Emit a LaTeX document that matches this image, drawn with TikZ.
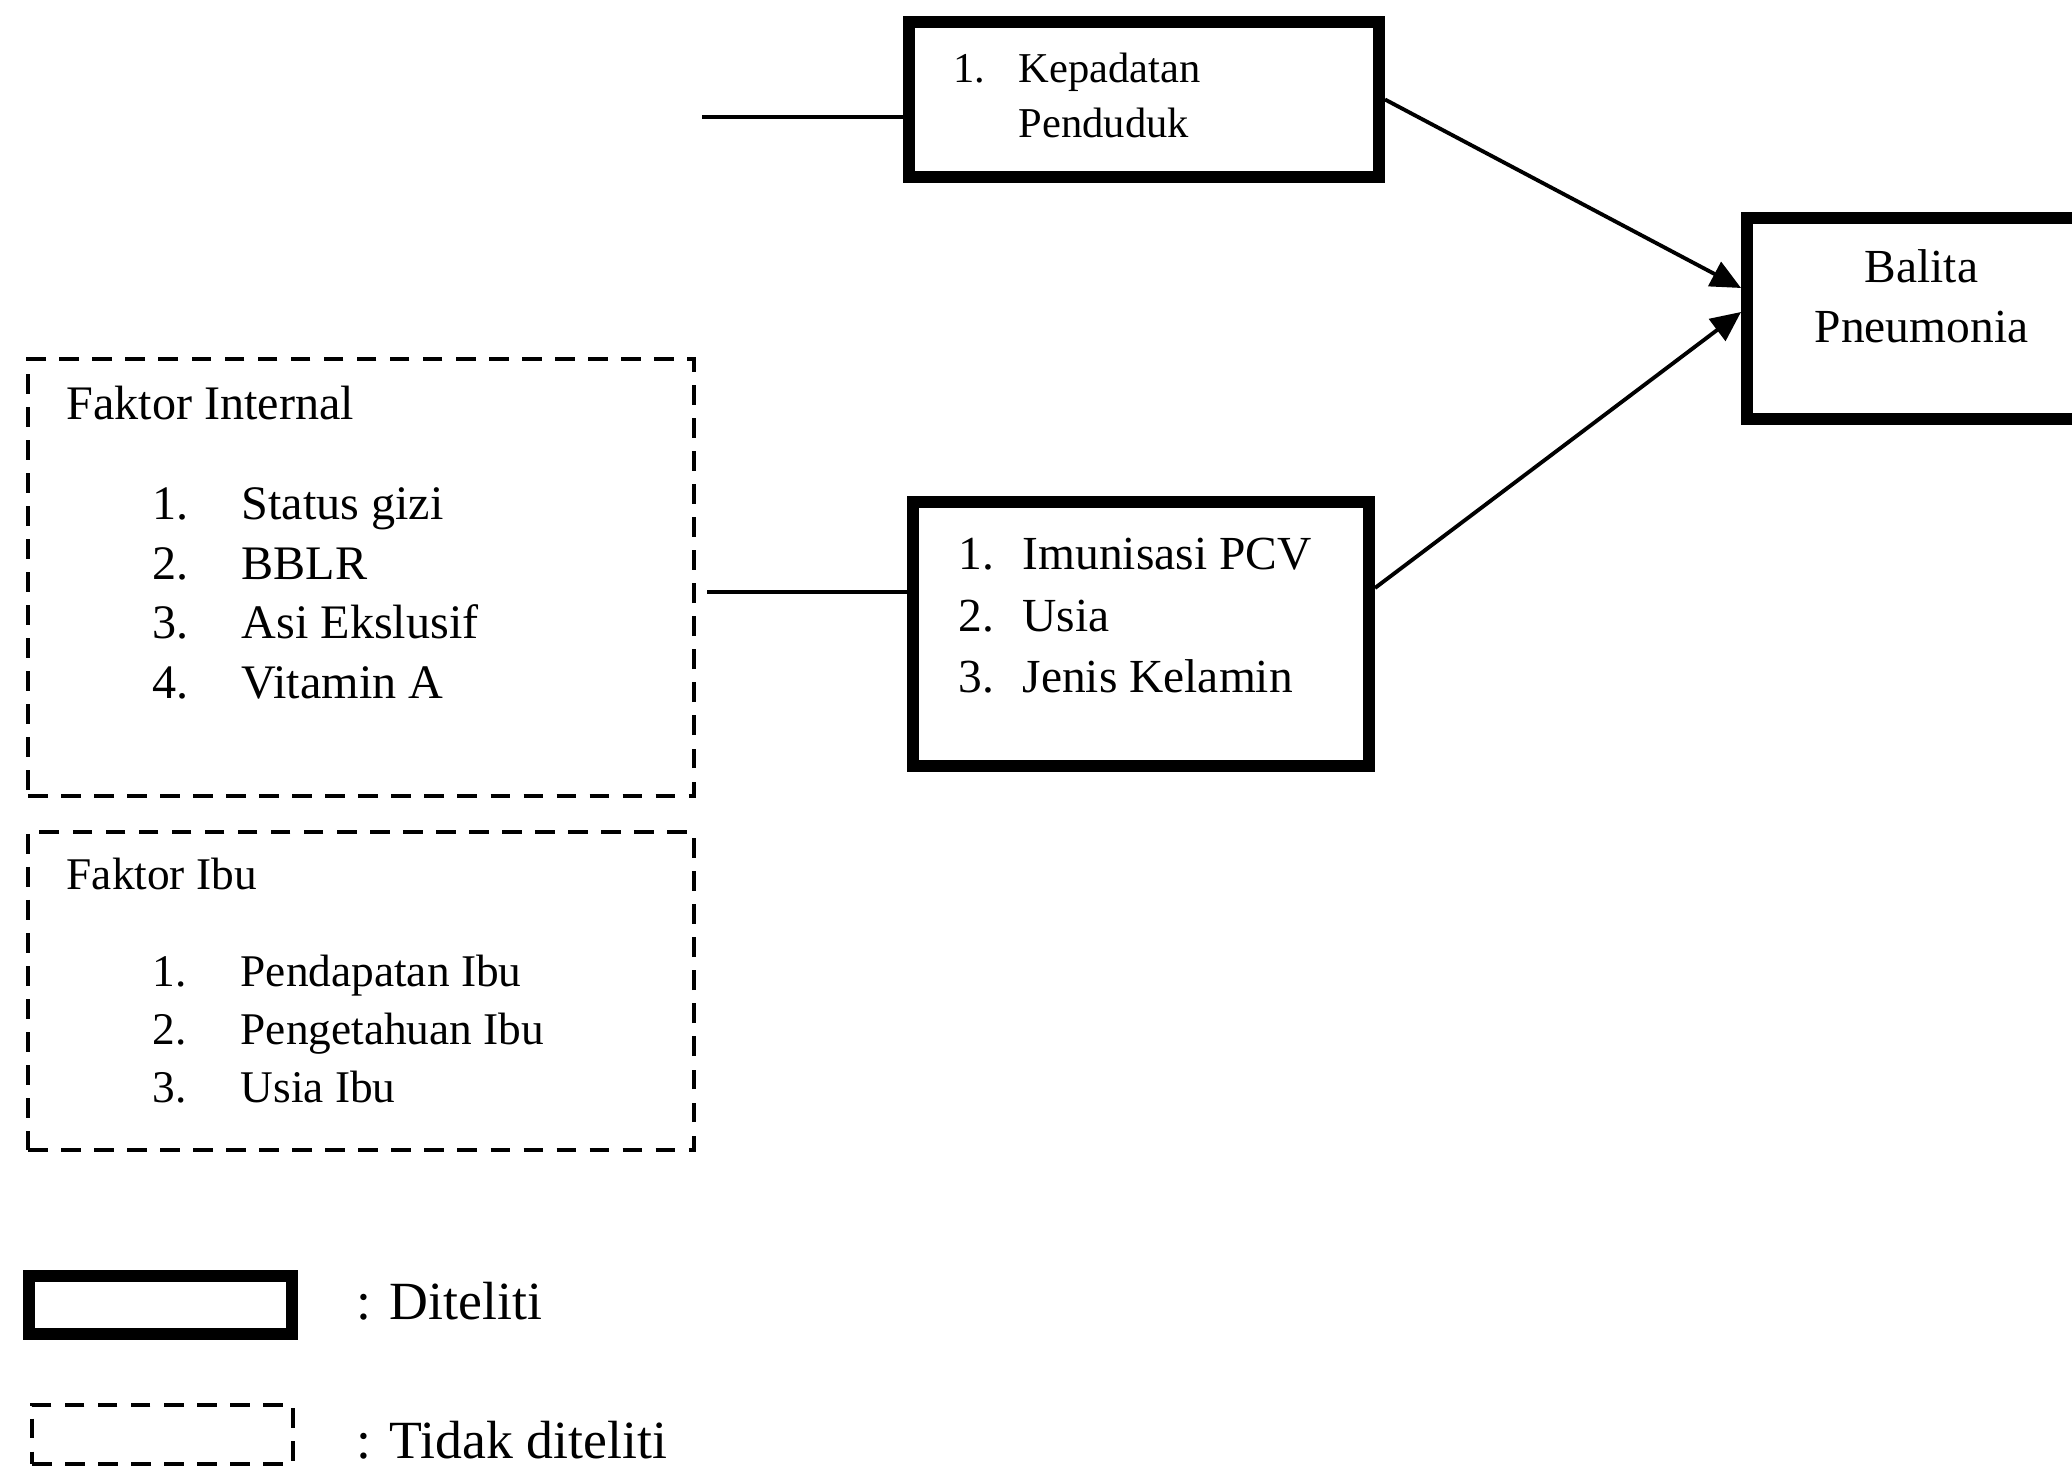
\documentclass[tikz,border=0pt]{standalone}
\usepackage{fontspec}
\setmainfont{Liberation Serif}
\usetikzlibrary{arrows.meta}
\tikzset{
  diteliti/.style={draw, line width=3.4pt, inner sep=0pt},
  tidakditeliti/.style={draw, line width=1.4pt, dash pattern=on 5.6pt off 3.8pt, inner sep=0pt},
  garis/.style={line width=1.1pt},
  panah/.style={garis, -{Triangle[length=3mm,width=2.7mm]}},
  teks/.style={inner sep=0pt, anchor=base west},
}
\begin{document}
\begin{tikzpicture}
\useasboundingbox (0,0) rectangle (20.72,-14.76);

% kotak yang diteliti
\node[diteliti, minimum width=4.70cm, minimum height=1.55cm] (kpd) at (11.44,-0.995) {};
\node[diteliti, minimum width=4.56cm, minimum height=2.64cm] (imn) at (11.41,-6.34) {};
\node[diteliti, minimum width=3.53cm, minimum height=2.01cm] (blt) at (19.235,-3.185) {};

% kotak yang tidak diteliti
\node[tidakditeliti, minimum width=6.66cm, minimum height=4.37cm] (fint) at (3.61,-5.775) {};
\node[tidakditeliti, minimum width=6.66cm, minimum height=3.18cm] (fibu) at (3.61,-9.91) {};

% isi kotak
\node[teks, font=\fontsize{12.1}{15.4}\selectfont] (tkpd) at (9.53,-0.83)
  {\begin{tabular}[t]{@{}p{6.5mm}@{}l@{}}1. & Kepadatan\\ & Penduduk\end{tabular}};
\node[teks, font=\fontsize{13.5}{17.4}\selectfont] (timn) at (9.58,-5.70)
  {\begin{tabular}[t]{@{}p{6.4mm}@{}l@{}}1. & Imunisasi PCV\\2. & Usia\\3. & Jenis Kelamin\end{tabular}};
\node[anchor=base, inner sep=0pt, font=\fontsize{13.5}{17}\selectfont] (tblt) at (19.215,-2.83)
  {\begin{tabular}[t]{@{}c@{}}Balita\\Pneumonia\end{tabular}};

\node[teks, font=\fontsize{13.7}{16.9}\selectfont] (tint) at (0.66,-4.20) {Faktor Internal};
\node[teks, font=\fontsize{13.7}{16.9}\selectfont] (lint) at (1.52,-5.20)
  {\begin{tabular}[t]{@{}p{8.9mm}@{}l@{}}1. & Status gizi\\2. & BBLR\\3. & Asi Ekslusif\\4. & Vitamin A\end{tabular}};

\node[teks, font=\fontsize{12.9}{16.4}\selectfont] (tibu) at (0.66,-8.90) {Faktor Ibu};
\node[teks, font=\fontsize{12.9}{16.4}\selectfont] (libu) at (1.52,-9.87)
  {\begin{tabular}[t]{@{}p{8.8mm}@{}l@{}}1. & Pendapatan Ibu\\2. & Pengetahuan Ibu\\3. & Usia Ibu\end{tabular}};

% garis dan panah
\coordinate (ujungK) at (7.02,-1.17);
\coordinate (ujungI) at (7.07,-5.92);
\draw[garis] (ujungK) -- (ujungK -| kpd.west);
\draw[garis] (ujungI) -- (ujungI -| imn.west);
\draw[panah] (kpd.east) -- ([yshift=3.05mm]blt.west);
\draw[panah] ([yshift=4.6mm]imn.east) -- ([yshift=0.65mm]blt.west);

% keterangan
\node[diteliti, minimum width=2.63cm, minimum height=0.58cm] (kd) at (1.605,-13.05) {};
\node[tidakditeliti, minimum width=2.61cm, minimum height=0.59cm] (ktd) at (1.625,-14.345) {};
\node[teks, font=\fontsize{15.3}{18}\selectfont] (lkd) at (3.56,-13.19) {: Diteliti};
\node[teks, font=\fontsize{15.3}{18}\selectfont] (lktd) at (3.56,-14.58) {: Tidak diteliti};
\end{tikzpicture}
\end{document}
